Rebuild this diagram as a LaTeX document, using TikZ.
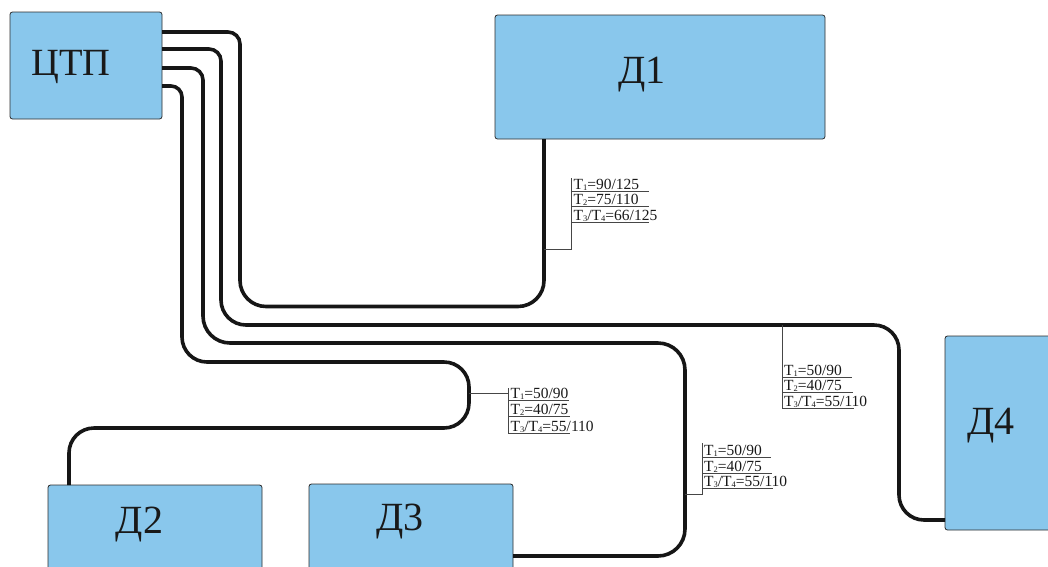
\documentclass[tikz,border=0pt]{standalone}
\usepackage{fontspec}
\setmainfont{Liberation Serif}
\usetikzlibrary{calc}
\definecolor{boxblue}{RGB}{137,199,236}
\definecolor{boxedge}{RGB}{45,45,45}
\definecolor{pipecol}{RGB}{22,22,22}
\definecolor{leadcol}{RGB}{70,70,70}
\newcommand\tsb[1]{\raisebox{-0.8pt}{\fontsize{8.5}{8.5}\selectfont #1}}
\tikzset{
  box/.style={draw=boxedge, line width=0.8pt, fill=boxblue, rounded corners=2.5pt,
              inner sep=0pt, outer sep=0pt, anchor=north west},
  bigtxt/.style={font=\fontsize{40}{42}\selectfont, text=black!90, inner sep=0pt, anchor=base},
  pipe/.style={draw=pipecol, line width=3.6pt},
  lead/.style={draw=leadcol, line width=0.9pt},
  tlab/.style={font=\fontsize{15.5}{16}\selectfont, text=black!90, inner sep=0pt, anchor=base west}
}
\begin{document}
\begin{tikzpicture}[x=1pt,y=-1pt]
\useasboundingbox (0,0) rectangle (1048,566);

% boxes
\node[box, minimum width=152pt, minimum height=107pt] (ctp) at (10,12) {};
\node[box, minimum width=330pt, minimum height=124pt] (d1) at (495,15) {};
\node[box, minimum width=214pt, minimum height=130pt] (d2) at (48,485) {};
\node[box, minimum width=204pt, minimum height=130pt] (d3) at (309,484) {};
\node[box, minimum width=130pt, minimum height=194pt] (d4) at (945,336) {};

% box texts
\node[bigtxt, font=\fontsize{38.5}{40}\selectfont] (tctp) at (71,75) {ЦТП};
\node[bigtxt] (td1) at (642,83) {Д1};
\node[bigtxt] (td2) at (139.5,533) {Д2};
\node[bigtxt] (td3) at (400,530) {Д3};
\node[bigtxt] (td4) at (991,434) {Д4};

% pipe 1 : ЦТП -> Д1
\draw[pipe, rounded corners=12pt] ($(ctp.north east)+(0,20)$) -- (240,32) -- (240,150) coordinate (p1m);
\draw[pipe, rounded corners=26pt] (p1m) -- (240,306.5) -- (544,306.5) -- (544,0 |- d1.south);
% pipe 2 : ЦТП -> Д4
\draw[pipe, rounded corners=12pt] ($(ctp.north east)+(0,37)$) -- (221,49) -- (221,150) coordinate (p2m);
\draw[pipe, rounded corners=25pt] (p2m) -- (221,325) -- (899,325) -- (899,520) -- ($(d4.south west)+(0,-10)$);
% pipe 3 : ЦТП -> Д3
\draw[pipe, rounded corners=12pt] ($(ctp.north east)+(0,56)$) -- (203,68) -- (203,150) coordinate (p3m);
\draw[pipe, rounded corners=27pt] (p3m) -- (203,343) -- (685,343) -- (685,556) -- ($(d3.north east)+(0,72)$);
% pipe 4 : ЦТП -> Д2
\draw[pipe, rounded corners=11pt] ($(ctp.north east)+(0,74)$) -- (182,86) -- (182,150) coordinate (p4m);
\draw[pipe, rounded corners=25pt] (p4m) -- (182,362) -- (469,362) -- (469,428) -- (69,428) -- ($(d2.north west)+(21,0)$);

% label 1 (Д1)
\coordinate (l1a) at (544,249);
\draw[lead] (l1a) -- (571.5,249) -- (571.5,178);
\draw[lead] (571.5,191) -- ++(77,0);
\draw[lead] (571.5,206) -- ++(77,0);
\draw[lead] (571.5,222) -- ++(77,0);
\node[tlab] (l1t1) at (573.5,189.5) {T\tsb{1}=90/125};
\node[tlab] (l1t2) at (573.5,204.5) {T\tsb{2}=75/110};
\node[tlab] (l1t3) at (573.5,220.5) {T\tsb{3}/T\tsb{4}=66/125};

% label 2 (Д2)
\coordinate (l2a) at (469,393);
\draw[lead] (l2a) -- (508,393);
\draw[lead] (508,388) -- (508,433);
\draw[lead] (508,400) -- ++(61,0);
\draw[lead] (508,416) -- ++(62,0);
\draw[lead] (508,433) -- ++(62,0);
\node[tlab] (l2t1) at (510.5,398.5) {T\tsb{1}=50/90};
\node[tlab] (l2t2) at (510.5,414.5) {T\tsb{2}=40/75};
\node[tlab] (l2t3) at (510.5,431.5) {T\tsb{3}/T\tsb{4}=55/110};

% label 3 (Д3)
\coordinate (l3a) at (685,494);
\draw[lead] (l3a) -- (702,494) -- (702,443);
\draw[lead] (702,457) -- ++(69,0);
\draw[lead] (702,473) -- ++(70,0);
\draw[lead] (702,488) -- ++(71,0);
\node[tlab] (l3t1) at (704,455.5) {T\tsb{1}=50/90};
\node[tlab] (l3t2) at (704,471.5) {T\tsb{2}=40/75};
\node[tlab] (l3t3) at (704,486.5) {T\tsb{3}/T\tsb{4}=55/110};

% label 4 (Д4)
\coordinate (l4a) at (782,325);
\draw[lead] (l4a) -- (782,408);
\draw[lead] (782,377) -- ++(70,0);
\draw[lead] (782,392) -- ++(71,0);
\draw[lead] (782,408) -- ++(72,0);
\node[tlab] (l4t1) at (784,375.5) {T\tsb{1}=50/90};
\node[tlab] (l4t2) at (784,390.5) {T\tsb{2}=40/75};
\node[tlab] (l4t3) at (784,406.5) {T\tsb{3}/T\tsb{4}=55/110};
\end{tikzpicture}
\end{document}
